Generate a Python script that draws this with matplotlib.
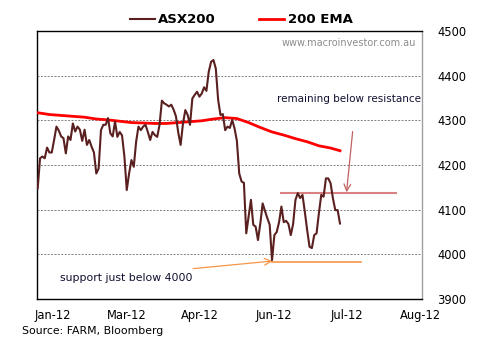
import matplotlib
matplotlib.use("Agg")
import matplotlib.pyplot as plt
import numpy as np

# ---- data (trading-day index based) ----
asx200 = [
    4148, 4215, 4219, 4215, 4239, 4228, 4228, 4256, 4286, 4277,
    4264, 4260, 4226, 4264, 4256, 4293, 4275, 4286, 4279, 4254,
    4279, 4245, 4256, 4241, 4228, 4181, 4192, 4278, 4290, 4290,
    4305, 4271, 4264, 4297,
    4263, 4274, 4266, 4219, 4144, 4181, 4211, 4196, 4252, 4286,
    4278, 4286, 4290, 4274, 4256, 4274, 4267, 4263, 4290, 4344,
    4338, 4335, 4331, 4335, 4324, 4309, 4272, 4245, 4293, 4323,
    4312, 4290,
    4349, 4357, 4364, 4353, 4360, 4374, 4366, 4409, 4431, 4435,
    4416, 4346, 4312, 4314, 4278, 4286, 4283, 4301, 4282, 4254,
    4181, 4163, 4160, 4047, 4084, 4122, 4066, 4062, 4032, 4069,
    4114, 4097, 4081, 4066, 3987, 4043, 4050, 4072, 4107, 4072,
    4075, 4068, 4043, 4068, 4122, 4137, 4126, 4133, 4095, 4054,
    4017, 4014, 4043, 4047, 4092, 4133, 4129, 4170, 4170, 4159,
    4125, 4099, 4099, 4069,
]
ema_days = [0, 5, 10, 15, 20, 25, 30, 35, 40, 45, 50, 55, 60, 65, 70,
            75, 80, 85, 90, 95, 100, 105, 110, 115, 120, 125, 129]
ema200 = [4317, 4313, 4311, 4309, 4307, 4303, 4301, 4298, 4295, 4294,
          4293, 4293, 4295, 4297, 4299, 4303, 4306, 4304, 4295, 4284,
          4274, 4267, 4259, 4252, 4243, 4238, 4232]
month_labels = ["Jan-12", "Mar-12", "Apr-12", "Jun-12", "Jul-12", "Aug-12"]
y_ticks = [3900, 4000, 4100, 4200, 4300, 4400, 4500]

resistance_level = 4138
resistance_span = (104, 153)
support_level = 3982
support_span = (100, 138)

# ---- layout ----
W, H = 484, 345
fig = plt.figure(figsize=(W / 100, H / 100), dpi=100)
ax = fig.add_axes([37 / W, 1 - 299 / H, (422 - 37) / W, (299 - 31) / H])

days = np.arange(len(asx200))
asx_col = "#5A2020"
ax.plot(ema_days, ema200, color="#FF0000", lw=2.0, label="200 EMA", zorder=3)
ax.plot(days, asx200, color=asx_col, lw=1.5, label="ASX200", zorder=4)

first_tick = 6.5
tick_step = 31.4
ax.set_xlim(-0.3, 164.0)
ax.set_ylim(3900, 4500)
ax.set_xticks([first_tick + k * tick_step for k in range(len(month_labels))])
ax.set_xticklabels(month_labels, fontsize=8.3)
ax.set_yticks(y_ticks)
ax.yaxis.tick_right()
ax.tick_params(axis="y", length=0, labelsize=8.3, pad=11)
ax.tick_params(axis="x", length=0, labelsize=8.3, pad=7)

for v in y_ticks[1:-1]:
    ax.axhline(v, color="#808080", lw=0.7, ls=(0, (2, 1.5)), zorder=1)

for s in ["left", "bottom", "top"]:
    ax.spines[s].set_color("black")
    ax.spines[s].set_linewidth(1.0)
ax.spines["right"].set_color("#A0A0A0")
ax.spines["right"].set_linewidth(1.0)

# resistance / support lines
ax.plot(resistance_span, [resistance_level] * 2, color="#D98080", lw=1.5, zorder=2)
ax.plot(support_span, [support_level] * 2, color="#F79646", lw=1.2, zorder=2)

# annotations
ax.text(0.985, 0.955, "www.macroinvestor.com.au", transform=ax.transAxes,
        ha="right", va="center", fontsize=7.0, color="#8C8C8C")
ax.text(0.997, 0.745, "remaining below resistance", transform=ax.transAxes,
        ha="right", va="center", fontsize=7.5, color="#101030")
ax.annotate("", xy=(131.8, 4139), xytext=(134.4, 4275),
            arrowprops=dict(arrowstyle="->", color="#C06060", lw=0.9,
                            mutation_scale=12, shrinkA=0, shrinkB=0))
ax.text(0.06, 0.08, "support just below 4000", transform=ax.transAxes,
        ha="left", va="center", fontsize=7.8, color="#101030")
ax.annotate("", xy=(100.2, 3985), xytext=(66.3, 3968),
            arrowprops=dict(arrowstyle="->", color="#F79646", lw=0.9,
                            mutation_scale=12, shrinkA=0, shrinkB=0))

leg = ax.legend(handles=ax.get_lines()[1::-1], loc="center",
                bbox_to_anchor=(0.53, 1.042), ncol=2, frameon=False,
                prop={"weight": "bold", "size": 9.5}, handlelength=1.9,
                handletextpad=0.25, columnspacing=3.3, borderaxespad=0)

fig.text(22 / W, 1 - 331 / H, "Source: FARM, Bloomberg", fontsize=7.8,
         ha="left", va="center", color="black")

fig.savefig("out.png", dpi=100)
